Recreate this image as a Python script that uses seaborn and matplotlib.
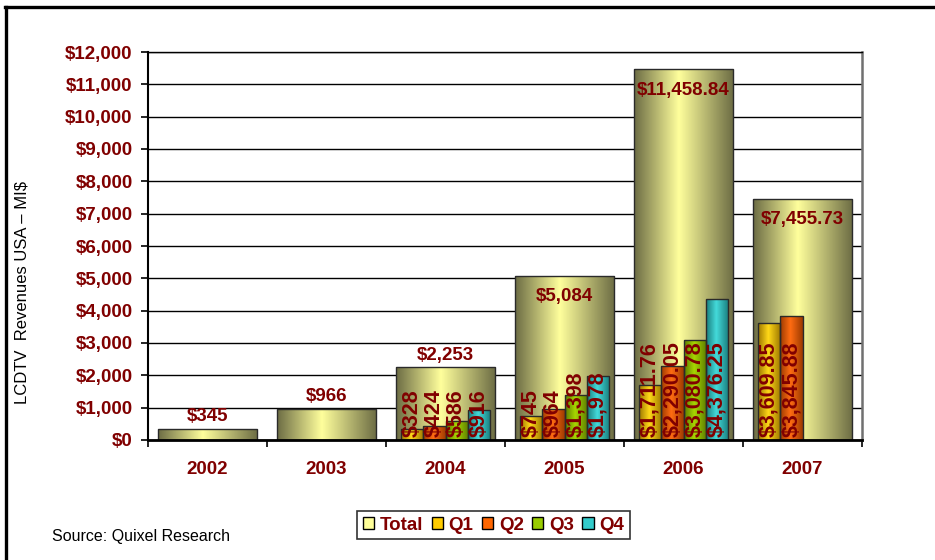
import numpy as np
import pandas as pd
import matplotlib
matplotlib.use("Agg")
import matplotlib.pyplot as plt
import seaborn as sns
from matplotlib.colors import LinearSegmentedColormap
from matplotlib.patches import Patch
from matplotlib.lines import Line2D
from matplotlib.ticker import FuncFormatter, FixedLocator

# ---------------- data ----------------
years = ['2002', '2003', '2004', '2005', '2006', '2007']
total = [345, 966, 2253, 5084, 11458.84, 7455.73]
total_labels = ['$345', '$966', '$2,253', '$5,084', '$11,458.84', '$7,455.73']

quarters = ['Q1', 'Q2', 'Q3', 'Q4']
q1 = [None, None, 328, 745, 1711.76, 3609.85]
q2 = [None, None, 424, 964, 2290.05, 3845.88]
q3 = [None, None, 586, 1398, 3080.78, None]
q4 = [None, None, 916, 1978, 4376.25, None]
q1_labels = [None, None, '$328', '$745', '$1,711.76', '$3,609.85']
q2_labels = [None, None, '$424', '$964', '$2,290.05', '$3,845.88']
q3_labels = [None, None, '$586', '$1,398', '$3,080.78', None]
q4_labels = [None, None, '$916', '$1,978', '$4,376.25', None]

yticks = list(range(0, 12001, 1000))

# ---------------- styles ----------------
plt.rcParams['font.family'] = ['Liberation Sans', 'DejaVu Sans']
DARKRED = '#800000'
flat = {'Total': '#FFFF99', 'Q1': '#FFCC00', 'Q2': '#FF6600', 'Q3': '#99CC00', 'Q4': '#33CCCC'}
grad_cols = {
    'Total': ('#6C6C44', '#FFFF9C'),
    'Q1': ('#9C7600', '#FFD818'),
    'Q2': ('#9C3A00', '#FF6C12'),
    'Q3': ('#5A7A00', '#A8D600'),
    'Q4': ('#187C7C', '#44DADA'),
}

df_total = pd.DataFrame({'year': years, 'value': total, 'label': total_labels})
rows = []
for q, vals, labs in zip(quarters, [q1, q2, q3, q4], [q1_labels, q2_labels, q3_labels, q4_labels]):
    for y, v, l in zip(years, vals, labs):
        if v is not None:
            rows.append({'year': y, 'quarter': q, 'value': v, 'label': l})
df_q = pd.DataFrame(rows)

fig = plt.figure(figsize=(9.35, 5.6), dpi=100)
ax = fig.add_axes([148 / 935, 1 - 440 / 560, (862 - 148) / 935, (440 - 52) / 560])

sns.barplot(data=df_total, x='year', y='value', order=years, color=flat['Total'],
            width=0.84, saturation=1, errorbar=None, ax=ax,
            edgecolor='#2a2a2a', linewidth=1)
sns.barplot(data=df_q, x='year', y='value', hue='quarter', order=years,
            hue_order=quarters, palette=flat, width=0.75, gap=0, dodge=True,
            saturation=1, errorbar=None, ax=ax, legend=False,
            edgecolor='#2a2a2a', linewidth=1)


def shade(patch, key, z):
    x0, y0 = patch.get_x(), patch.get_y()
    w, h = patch.get_width(), patch.get_height()
    if not np.isfinite(h) or h == 0:
        return
    edge, mid = grad_cols[key]
    cmap = LinearSegmentedColormap.from_list('g', [(0, edge), (0.45, mid), (1, edge)])
    grad = np.linspace(0, 1, 256).reshape(1, -1)
    im = ax.imshow(grad, extent=[x0, x0 + w, y0, y0 + h], aspect='auto',
                   cmap=cmap, zorder=z, interpolation='bilinear')
    im.set_clip_path(patch)
    patch.set_facecolor('none')
    patch.set_zorder(z + 0.1)


containers = ax.containers
# totals
for p in containers[0]:
    shade(p, 'Total', 2)
# quarters
qlab = {(r.year, r.quarter): r.label for r in df_q.itertuples()}
for q, cont in zip(quarters, containers[1:]):
    for p in cont:
        if not np.isfinite(p.get_height()):
            continue
        shade(p, q, 3)
        cx = p.get_x() + p.get_width() / 2
        idx = int(round(cx))
        lab = qlab.get((years[idx], q))
        if lab:
            ax.annotate(lab, (cx, 0), xytext=(0, 2), textcoords='offset points',
                        rotation=90, ha='center', va='bottom', fontsize=15.5,
                        fontweight='bold', color=DARKRED, zorder=5)

# total labels
for i, (v, lab) in enumerate(zip(total, total_labels)):
    if v > 4000:
        ax.annotate(lab, (i, v), xytext=(0, -9), textcoords='offset points',
                    ha='center', va='top', fontsize=13.5, fontweight='bold',
                    color=DARKRED, zorder=5)
    else:
        ax.annotate(lab, (i, v), xytext=(0, 2.5), textcoords='offset points',
                    ha='center', va='bottom', fontsize=13.5, fontweight='bold',
                    color=DARKRED, zorder=5)

ax.set_xlim(-0.5, 5.5)
ax.set_ylim(0, 12000)
ax.set_yticks(yticks)
ax.yaxis.set_major_formatter(FuncFormatter(lambda v, _: f'${v:,.0f}'))
ax.yaxis.grid(True, color='black', linewidth=1)
ax.set_axisbelow(True)
ax.set_xlabel('')
ax.set_ylabel('')

ax.xaxis.set_minor_locator(FixedLocator(np.arange(-0.5, 6, 1)))
ax.tick_params(axis='x', which='major', length=0, pad=15, labelsize=13.5,
               labelcolor=DARKRED)
ax.tick_params(axis='x', which='minor', length=5, width=1.2, direction='out', color='black')
ax.tick_params(axis='y', length=5, width=1.2, direction='out', pad=6,
               labelsize=13.5, labelcolor=DARKRED)
for t in ax.get_xticklabels() + ax.get_yticklabels():
    t.set_fontweight('bold')

ax.spines['left'].set_color('black')
ax.spines['left'].set_linewidth(1.5)
ax.spines['bottom'].set_color('black')
ax.spines['bottom'].set_linewidth(2)
ax.spines['right'].set_color('#707070')
ax.spines['right'].set_linewidth(1.8)
ax.spines['top'].set_color('black')
ax.spines['top'].set_linewidth(1)
ax.spines['bottom'].set_zorder(6)

# y label
fig.text(22 / 935, 1 - 292 / 560, 'LCDTV  Revenues USA – MI$', rotation=90,
         ha='center', va='center', fontsize=12, color='black')

# legend
handles = [Patch(facecolor=flat[k], edgecolor='black', linewidth=1) for k in ['Total'] + quarters]
leg = fig.legend(handles, ['Total'] + quarters, loc='center', bbox_to_anchor=(493.5 / 935, 1 - 525 / 560),
                 ncol=5, frameon=True, fancybox=False, edgecolor='black',
                 handlelength=0.6, handleheight=0.6, handletextpad=0.3,
                 columnspacing=0.45, borderpad=0.3, borderaxespad=0,
                 prop={'weight': 'bold', 'size': 13.5})
leg.get_frame().set_linewidth(1.2)
for t in leg.get_texts():
    t.set_color(DARKRED)

# source
fig.text(52 / 935, 1 - 536 / 560, 'Source: Quixel Research', ha='left', va='center',
         fontsize=11.5, color='black')

# frame lines (top and left)
fig.add_artist(Line2D([5 / 935, 1], [1 - 6.5 / 560, 1 - 6.5 / 560], transform=fig.transFigure,
                      color='black', linewidth=2.4))
fig.add_artist(Line2D([6 / 935, 6 / 935], [0, 1 - 6.5 / 560], transform=fig.transFigure,
                      color='black', linewidth=2.4))

fig.savefig('out.png', dpi=100)
